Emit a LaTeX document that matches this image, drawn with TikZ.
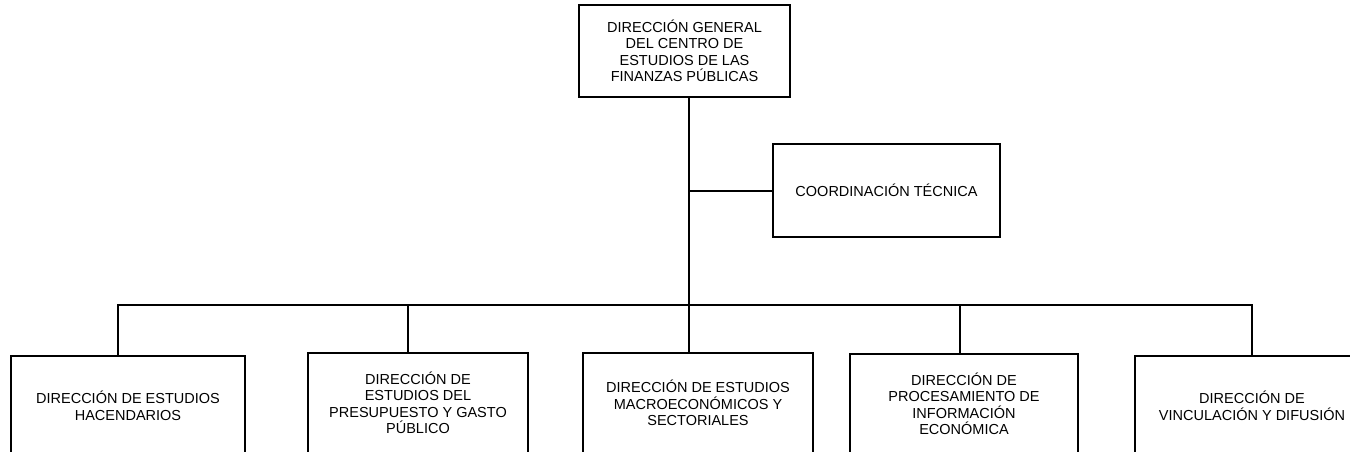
\documentclass[tikz,border=0pt]{standalone}
\usepackage{fontspec}
\setmainfont{Liberation Sans}
\begin{document}
\begin{tikzpicture}[x=1pt,y=-1pt,
  box/.style={draw,line width=1.4pt,align=center,inner sep=0pt,font=\fontsize{14.5}{16.5}\selectfont},
  conn/.style={line width=1.4pt}]
\useasboundingbox (0,0) rectangle (1350,451);
\node[box,minimum width=211pt,minimum height=92pt] (dg) at (684.5,51) {DIRECCIÓN GENERAL\\DEL CENTRO DE\\ESTUDIOS DE LAS\\FINANZAS PÚBLICAS};
\node[box,minimum width=227pt,minimum height=93pt] (ct) at (886.5,190.5) {COORDINACIÓN TÉCNICA};
\node[box,minimum width=234pt,minimum height=100pt] (b1) at (128,406) {DIRECCIÓN DE ESTUDIOS\\HACENDARIOS};
\node[box,minimum width=220pt,minimum height=100pt] (b2) at (418,403) {DIRECCIÓN DE\\ESTUDIOS DEL\\PRESUPUESTO Y GASTO\\PÚBLICO};
\node[box,minimum width=230pt,minimum height=100pt] (b3) at (698,403) {DIRECCIÓN DE ESTUDIOS\\MACROECONÓMICOS Y\\SECTORIALES};
\node[box,minimum width=228pt,minimum height=100pt] (b4) at (964,404) {DIRECCIÓN DE\\PROCESAMIENTO DE\\INFORMACIÓN\\ECONÓMICA};
\node[box,minimum width=234pt,minimum height=100pt] (b5) at (1252,406) {DIRECCIÓN DE\\VINCULACIÓN Y DIFUSIÓN};
\coordinate (m) at (689,305);
\coordinate (d1) at (118,305);
\coordinate (d2) at (408,305);
\coordinate (d4) at (960,305);
\coordinate (d5) at (1252,305);
\coordinate (mc) at (689,191);
\draw[conn] (m |- dg.south) -- (m |- b3.north);
\draw[conn] (mc) -- (mc -| ct.west);
\draw[conn] (d1 |- b1.north) -- (d1) -- (d5) -- (d5 |- b5.north);
\draw[conn] (d2) -- (d2 |- b2.north);
\draw[conn] (d4) -- (d4 |- b4.north);
\end{tikzpicture}
\end{document}
